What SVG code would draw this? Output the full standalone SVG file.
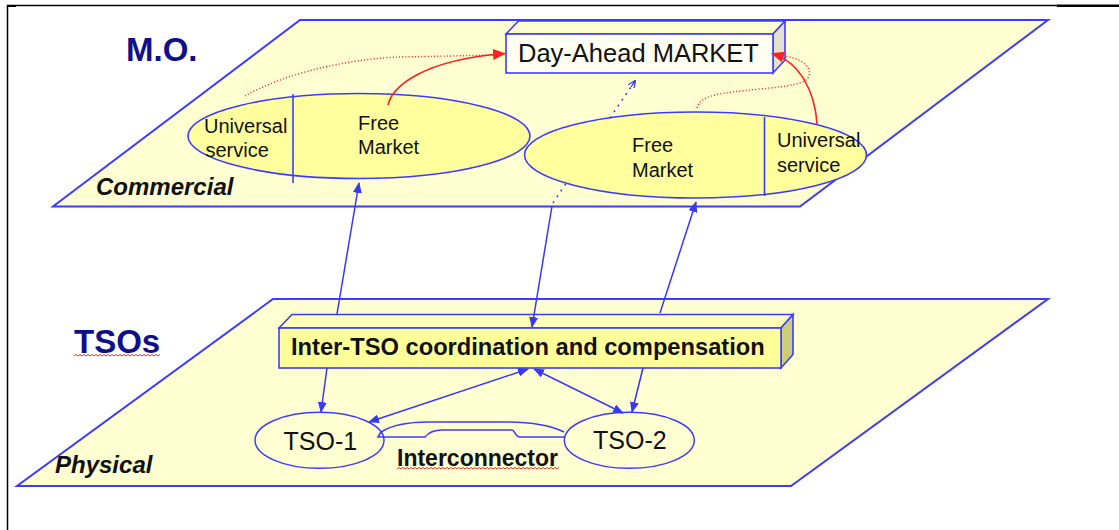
<svg xmlns="http://www.w3.org/2000/svg" width="1119" height="530" viewBox="0 0 1119 530">
<style>
.plane{fill:#FFFFD2;stroke:#3C3CFF;stroke-width:2}
.ell{fill:#FFFF9E;stroke:#3C3CFF;stroke-width:1.6}
.edge{fill:none;stroke:#3C3CFF;stroke-width:1.6}
.blue{fill:none;stroke:#3838F8;stroke-width:1.5}
.red{fill:none;stroke:#FF2020;stroke-width:1.6}
.reddot{fill:none;stroke:#FF3030;stroke-width:1.4;stroke-dasharray:1.2 2}
.bluedot{fill:none;stroke:#3838F8;stroke-width:1.5;stroke-dasharray:2 5}
.sq{fill:none;stroke:#E03030;stroke-width:1}
text{font-family:"Liberation Sans",Arial,sans-serif;fill:#111}
.title{font-size:33px;font-weight:bold;fill:#10108C}
.layer{font-size:24px;font-weight:bold;font-style:italic}
.lbl{font-size:20px}
.tso{font-size:25px}
</style>
<defs>
<marker id="ab" markerUnits="userSpaceOnUse" markerWidth="11" markerHeight="9" refX="10" refY="4.5" orient="auto-start-reverse">
<path d="M0,0 L11,4.5 L0,9 z" fill="#3838F8"/>
</marker>
<marker id="ar" markerUnits="userSpaceOnUse" markerWidth="13" markerHeight="11" refX="12" refY="5.5" orient="auto">
<path d="M0,0 L13,5.5 L0,11 z" fill="#FF2020"/>
</marker>
<marker id="asm" markerUnits="userSpaceOnUse" markerWidth="8" markerHeight="7" refX="7" refY="3.5" orient="auto">
<path d="M0,0 L8,3.5 L0,7 M0,3.5 L8,3.5" fill="none" stroke="#3838F8" stroke-width="1.2"/>
</marker>
</defs>

<g id="frame">
<path d="M7.5,530 L7.5,5.5 L1057,5.5" fill="none" stroke="#000" stroke-width="1.5"/>
<rect x="7" y="5" width="9" height="2" fill="#000"/>
<rect x="1057" y="4.5" width="62" height="2.5" fill="#000"/>
</g>

<g id="commercial-plane">
<polygon class="plane" points="300,20 1048,20 800,206.5 53,206.5"/>
<text class="title" x="126" y="61">M.O.</text>
<text class="layer" x="96" y="195">Commercial</text>
</g>

<g id="physical-plane">
<polygon class="plane" points="273,299 1048,299 791,486 17,486"/>
<text class="title" x="74" y="353">TSOs</text>
<path class="sq" d="M74,356 l2,-1.5 l2,1.5 l2,-1.5 l2,1.5 l2,-1.5 l2,1.5 l2,-1.5 l2,1.5 l2,-1.5 l2,1.5 l2,-1.5 l2,1.5 l2,-1.5 l2,1.5 l2,-1.5 l2,1.5 l2,-1.5 l2,1.5 l2,-1.5 l2,1.5 l2,-1.5 l2,1.5 l2,-1.5 l2,1.5 l2,-1.5 l2,1.5 l2,-1.5 l2,1.5 l2,-1.5 l2,1.5 l2,-1.5 l2,1.5 l2,-1.5 l2,1.5 l2,-1.5 l2,1.5 l2,-1.5 l2,1.5 l2,-1.5 l2,1.5 l2,-1.5 l2,1.5 l2,-1.5"/>
<text class="layer" x="55" y="473">Physical</text>
</g>

<g id="day-ahead-market">
<polygon points="506,34 518.5,21 785,21 773,34" fill="#FFFFD2" stroke="#3C3CFF" stroke-width="1.6"/>
<polygon points="773,34 785,21 785,60 773,73" fill="#E2E2CE" stroke="#3C3CFF" stroke-width="1.6"/>
<rect x="506" y="34" width="267" height="39" fill="#FFFFF2" stroke="#3C3CFF" stroke-width="1.6"/>
<text x="518" y="62" font-size="25.5">Day-Ahead MARKET</text>
</g>

<g id="market-left">
<ellipse class="ell" cx="359" cy="136" rx="171" ry="42.5"/>
<line class="edge" x1="293" y1="94" x2="293" y2="183"/>
<text class="lbl" x="204" y="133">Universal</text>
<text class="lbl" x="205.5" y="157">service</text>
<text class="lbl" x="358" y="130">Free</text>
<text class="lbl" x="358" y="153.5">Market</text>
</g>

<g id="market-right">
<ellipse class="ell" cx="695.5" cy="155" rx="171" ry="43"/>
<line class="edge" x1="764.5" y1="117" x2="764.5" y2="196"/>
<text class="lbl" x="632" y="152">Free</text>
<text class="lbl" x="632" y="177">Market</text>
<text class="lbl" x="777" y="147">Universal</text>
<text class="lbl" x="777" y="172">service</text>
</g>

<g id="inter-tso">
<polygon points="279,328 292,314.5 793,314.5 781,328" fill="#FFFFB8" stroke="#3C3CFF" stroke-width="1.6"/>
<polygon points="781,328 793,314.5 793,354.5 781,368" fill="#CCCC7A" stroke="#3C3CFF" stroke-width="1.6"/>
<rect x="279" y="328" width="502" height="40" fill="#FFFF99" stroke="#3C3CFF" stroke-width="1.6"/>
<text x="291" y="355" font-size="23.7" font-weight="bold">Inter-TSO coordination and compensation</text>
</g>

<g id="tso-1">
<ellipse cx="319.5" cy="440.3" rx="64.5" ry="28" fill="none" stroke="#3C3CFF" stroke-width="1.5"/>
<text class="tso" x="283.5" y="449.5">TSO-1</text>
</g>

<g id="tso-2">
<ellipse cx="629.3" cy="440.3" rx="65" ry="28" fill="none" stroke="#3C3CFF" stroke-width="1.5"/>
<text class="tso" x="593" y="448.5">TSO-2</text>
</g>

<g id="interconnector">
<path class="edge" stroke-width="1.4" d="M381,432 C392,425 410,422 428,422 L505,422 C530,422 552,426 564,432"/>
<path class="edge" stroke-width="1.4" d="M381,432 L378,437 L425,437 C429,432 434,430 442,430 L512,430 C515,430 515,437 520,437 L565,437"/>
<text x="397" y="466" font-size="23" font-weight="bold">Interconnector</text>
<path class="sq" d="M397,469 l2,-1.5 l2,1.5 l2,-1.5 l2,1.5 l2,-1.5 l2,1.5 l2,-1.5 l2,1.5 l2,-1.5 l2,1.5 l2,-1.5 l2,1.5 l2,-1.5 l2,1.5 l2,-1.5 l2,1.5 l2,-1.5 l2,1.5 l2,-1.5 l2,1.5 l2,-1.5 l2,1.5 l2,-1.5 l2,1.5 l2,-1.5 l2,1.5 l2,-1.5 l2,1.5 l2,-1.5 l2,1.5 l2,-1.5 l2,1.5 l2,-1.5 l2,1.5 l2,-1.5 l2,1.5 l2,-1.5 l2,1.5 l2,-1.5 l2,1.5 l2,-1.5 l2,1.5 l2,-1.5 l2,1.5 l2,-1.5 l2,1.5 l2,-1.5 l2,1.5 l2,-1.5 l2,1.5 l2,-1.5 l2,1.5 l2,-1.5 l2,1.5 l2,-1.5 l2,1.5 l2,-1.5 l2,1.5 l2,-1.5 l2,1.5 l2,-1.5 l2,1.5 l2,-1.5 l2,1.5 l2,-1.5 l2,1.5 l2,-1.5 l2,1.5 l2,-1.5 l2,1.5 l2,-1.5 l2,1.5 l2,-1.5 l2,1.5 l2,-1.5 l2,1.5 l2,-1.5 l2,1.5 l2,-1.5 l2,1.5 l2,-1.5"/>
</g>

<g id="connectors">
<!-- red: markets to Day-Ahead -->
<path class="reddot" d="M245,96 C290,70 360,58 400,57 L497,55"/>
<path class="red" d="M388,105 C392,88 420,60 505,53.5" marker-end="url(#ar)"/>
<path class="reddot" d="M697,108 C700,95 720,93 760,89 C790,86 806,84 809,76 C812,66 800,58 784,56"/>
<path class="red" d="M817,124 C815,92 800,62 772,53.5" marker-end="url(#ar)"/>
<!-- blue dotted: market to Day-Ahead -->
<path class="bluedot" d="M553,203 L566,183.5"/>
<path class="bluedot" d="M610,118 L635,81" marker-end="url(#asm)"/>
<!-- between planes -->
<line class="blue" x1="337" y1="314" x2="359" y2="183" marker-end="url(#ab)"/>
<line class="blue" x1="552" y1="206" x2="532" y2="327" marker-end="url(#ab)"/>
<line class="blue" x1="660" y1="313" x2="696" y2="202" marker-end="url(#ab)"/>
<!-- physical -->
<line class="blue" x1="327" y1="368" x2="321" y2="412" marker-end="url(#ab)"/>
<line class="blue" x1="643" y1="368" x2="632" y2="412" marker-end="url(#ab)"/>
<line class="blue" x1="369" y1="422" x2="528" y2="369" marker-start="url(#ab)" marker-end="url(#ab)"/>
<line class="blue" x1="534" y1="369" x2="623" y2="413" marker-start="url(#ab)" marker-end="url(#ab)"/>
</g>
</svg>
